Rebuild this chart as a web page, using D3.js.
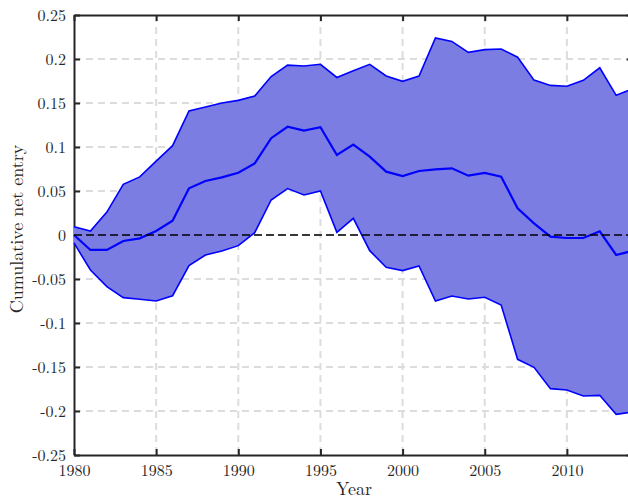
<!DOCTYPE html>
<html><head><meta charset="utf-8">
<script src="https://cdn.jsdelivr.net/npm/d3@7"></script>
<style>body{margin:0;background:#fff}svg{display:block}text{font-family:"Latin Modern Roman","CMU Serif","Liberation Serif","DejaVu Serif",serif;fill:#262626}</style>
</head><body>
<script>
const years = d3.range(1980, 2015);
const upper = [0.0094,0.0045,0.026,0.0576,0.066,0.084,0.1015,0.141,0.1455,0.150,0.153,0.158,0.180,0.193,0.192,0.194,0.179,0.1867,0.194,0.1807,0.1746,0.1807,0.224,0.220,0.2076,0.2106,0.2114,0.202,0.176,0.170,0.169,0.1758,0.190,0.1587,0.166];
const middle = [0,-0.017,-0.017,-0.0068,-0.0038,0.0045,0.0163,0.053,0.0614,0.0655,0.0708,0.0814,0.110,0.123,0.1186,0.1224,0.0909,0.1027,0.089,0.072,0.067,0.0727,0.0746,0.0758,0.0674,0.0705,0.0663,0.0303,0.0133,-0.0019,-0.0034,-0.0034,0.0042,-0.0227,-0.018];
const lower = [-0.009,-0.0398,-0.0587,-0.0712,-0.0731,-0.075,-0.069,-0.0348,-0.0227,-0.0182,-0.0121,0.0027,0.0398,0.0527,0.0455,0.050,0.003,0.019,-0.0178,-0.0367,-0.0405,-0.0352,-0.075,-0.0693,-0.0727,-0.0708,-0.0795,-0.1413,-0.1504,-0.1746,-0.1761,-0.183,-0.1822,-0.2038,-0.201];
const xTicks = [1980,1985,1990,1995,2000,2005,2010];
const yTicks = [0.25,0.2,0.15,0.1,0.05,0,-0.05,-0.1,-0.15,-0.2,-0.25];
const yTickLabels = ["0.25","0.2","0.15","0.1","0.05","0","-0.05","-0.1","-0.15","-0.2","-0.25"];

(function () {
const W = 628, H = 500;
const x = d3.scaleLinear().domain([1980, 2014]).range([74, 632.6]);
const y = d3.scaleLinear().domain([-0.25, 0.25]).range([455, 15]);
const svg = d3.select("body").append("svg").attr("width", W).attr("height", H);

// grid
const g = svg.append("g");
xTicks.slice(1).forEach(t => g.append("line").attr("x1", x(t)).attr("x2", x(t)).attr("y1", y(0.25)).attr("y2", y(-0.25))
  .attr("stroke", "#dcdcdc").attr("stroke-width", 2).attr("stroke-dasharray", "7,5"));
yTicks.slice(1, -1).forEach(t => g.append("line").attr("x1", x(1980)).attr("x2", x(2014)).attr("y1", y(t)).attr("y2", y(t))
  .attr("stroke", "#dcdcdc").attr("stroke-width", 2).attr("stroke-dasharray", "7,5"));

// axes
const ax = svg.append("g");
const axB = d3.axisBottom(x).tickValues(xTicks).tickFormat(d3.format("d")).tickSizeInner(-6).tickSizeOuter(0).tickPadding(10);
const bg = ax.append("g").attr("transform", `translate(0,${y(-0.25)})`).call(axB);
const axL = d3.axisLeft(y).tickValues(yTicks).tickFormat((d, i) => yTickLabels[i]).tickSizeInner(-6).tickSizeOuter(0).tickPadding(8);
const lg = ax.append("g").attr("transform", `translate(${x(1980)},0)`).call(axL);
const axT = d3.axisTop(x).tickValues(xTicks).tickFormat("").tickSizeInner(-6).tickSizeOuter(0);
const tg = ax.append("g").attr("transform", `translate(0,${y(0.25)})`).call(axT);
const axR = d3.axisRight(y).tickValues(yTicks).tickFormat("").tickSizeInner(-6).tickSizeOuter(0);
const rg = ax.append("g").attr("transform", `translate(${x(2014)},0)`).call(axR);
[bg, lg, tg, rg].forEach(a => {
  a.selectAll("path.domain").attr("stroke", "#262626").attr("stroke-width", 2);
  a.selectAll(".tick line").attr("stroke", "#262626").attr("stroke-width", 2);
  a.selectAll("text").style("font-size", "16px").attr("fill", "#262626");
});

// band
const idx = d3.range(years.length);
const area = d3.area().x(i => x(years[i])).y0(i => y(lower[i])).y1(i => y(upper[i]));
svg.append("path").datum(idx).attr("d", area).attr("fill", "#7b7de2").attr("stroke", "none");
const line = arr => d3.line().x(i => x(years[i])).y(i => y(arr[i]));
svg.append("path").datum(idx).attr("d", line(upper)).attr("fill", "none").attr("stroke", "#0000ff").attr("stroke-width", 1.6);
svg.append("path").datum(idx).attr("d", line(lower)).attr("fill", "none").attr("stroke", "#0000ff").attr("stroke-width", 1.6);
svg.append("path").datum(idx).attr("d", line(middle)).attr("fill", "none").attr("stroke", "#0000ff").attr("stroke-width", 2.2);

// zero line
svg.append("line").attr("x1", x(1980)).attr("x2", x(2014)).attr("y1", y(0)).attr("y2", y(0))
  .attr("stroke", "#000").attr("stroke-width", 1.3).attr("stroke-dasharray", "8,4");

// labels
svg.append("text").attr("x", 354).attr("y", 495).attr("text-anchor", "middle").style("font-size", "18px").text("Year");
svg.append("text").attr("transform", "translate(23,229) rotate(-90)").attr("text-anchor", "middle").style("font-size", "18px").text("Cumulative net entry");
})();
</script>
</body></html>
